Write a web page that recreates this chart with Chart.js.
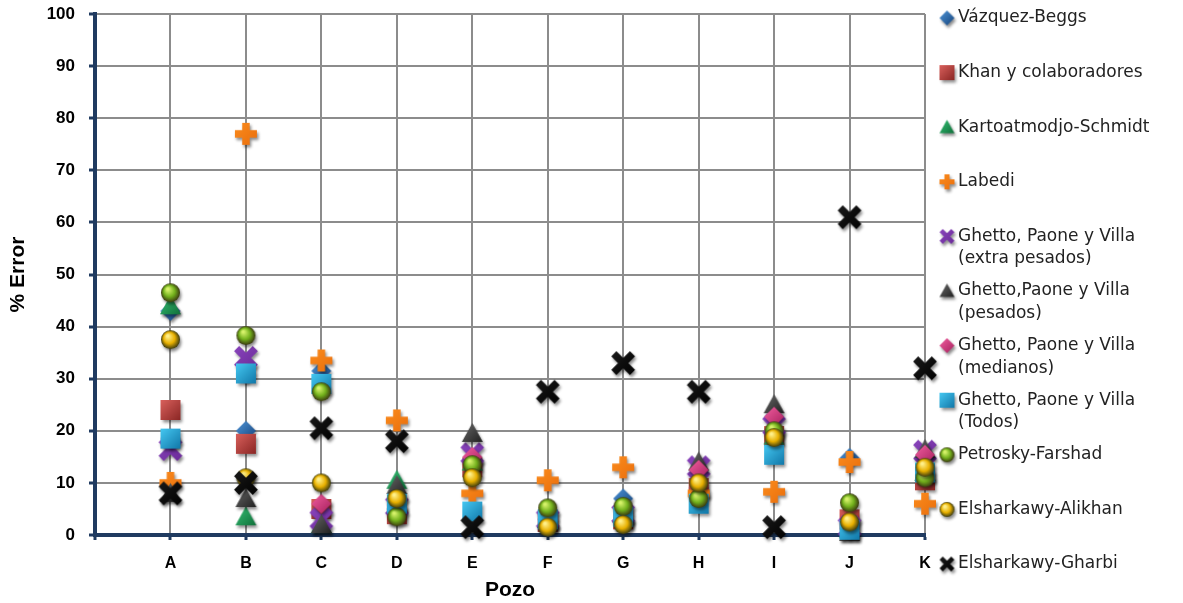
<!DOCTYPE html>
<html lang="es">
<head>
<meta charset="UTF-8">
<title>% Error por pozo</title>
<script src="https://cdn.jsdelivr.net/npm/chart.js@4.4.0/dist/chart.umd.min.js"></script>
<style>
  html, body { margin: 0; padding: 0; background: #fff; }
  #wrap { width: 1183px; height: 603px; }
</style>
</head>
<body>
<div id="wrap"><canvas id="chart" width="1183" height="603"></canvas></div>
<script>
// pozos (eje x) y % de error de cada correlacion
const pozos = ['A', 'B', 'C', 'D', 'E', 'F', 'G', 'H', 'I', 'J', 'K'];
const yTicks = [0, 10, 20, 30, 40, 50, 60, 70, 80, 90, 100];

const vazquezBeggs   = [43, 20, 31.5, 5, 14, 3, 7, 9, 19, 14.8, 12];
const khan           = [24, 17.5, 5, 4, 13, 2.5, 3, 9, 19, 3, 10.5];
const kartoatmodjo   = [44, 3.5, 2, 10.5, 14, 3, 4, 9, 19, 1, 12];
const labedi         = [10, 77, 33.5, 22, 8, 10.5, 13, 8, 8.3, 14, 6];
const ghettoExtra    = [16.5, 34, 3, 5.5, 15.5, 3, 4, 13, 21, 1.5, 16];
const ghettoPesados  = [8, 7, 2, 9.5, 19.5, 3, 4, 14, 25, 0.5, 16.4];
const ghettoMedianos = [18.5, 31, 6, 5, 15, 3, 4, 12.5, 22.7, 1, 15.4];
const ghettoTodos    = [18.5, 31, 29, 6, 4.5, 3, 3.5, 6, 15.4, 1, 12];
const petrosky       = [46.5, 38.3, 27.5, 3.5, 13.5, 5.2, 5.5, 7, 20, 6.2, 11];
const alikhan        = [37.5, 11, 10, 7, 11, 1.5, 2, 10, 18.7, 2.5, 13];
const gharbi         = [8, 10, 20.5, 18, 1.5, 27.5, 33, 27.5, 1.5, 61, 32];

// small canvases used as point markers
function makeMarker(kind, c1, c2, size) {
  const pad = 6;
  const s = size + pad * 2;
  const cv = document.createElement('canvas');
  cv.width = s; cv.height = s;
  const g = cv.getContext('2d');
  const c = s / 2, r = size / 2;
  g.shadowColor = 'rgba(0,0,0,0.45)';
  g.shadowBlur = 3;
  g.shadowOffsetX = 1.5;
  g.shadowOffsetY = 2.5;
  const lg = g.createLinearGradient(c - r, c - r, c + r, c + r);
  lg.addColorStop(0, c1);
  lg.addColorStop(1, c2);
  g.fillStyle = lg;
  g.beginPath();
  if (kind === 'diamond') {
    g.moveTo(c, c - r); g.lineTo(c + r, c); g.lineTo(c, c + r); g.lineTo(c - r, c);
    g.closePath(); g.fill();
  } else if (kind === 'square') {
    g.rect(c - r, c - r, size, size); g.fill();
  } else if (kind === 'triangle') {
    g.moveTo(c, c - r); g.lineTo(c + r, c + r * 0.8); g.lineTo(c - r, c + r * 0.8);
    g.closePath(); g.fill();
  } else if (kind === 'plus') {
    const w = size * 0.34;
    g.rect(c - w / 2, c - r, w, size);
    g.rect(c - r, c - w / 2, size, w);
    g.fill();
  } else if (kind === 'x') {
    g.strokeStyle = lg;
    g.lineWidth = size * 0.3;
    const d = r * 0.78;
    g.moveTo(c - d, c - d); g.lineTo(c + d, c + d);
    g.moveTo(c + d, c - d); g.lineTo(c - d, c + d);
    g.stroke();
  } else if (kind === 'sphere') {
    const rg = g.createRadialGradient(c - r * 0.3, c - r * 0.4, 1, c, c, r);
    rg.addColorStop(0, c1);
    rg.addColorStop(0.55, c2);
    rg.addColorStop(1, '#3a3a10');
    g.fillStyle = rg;
    g.arc(c, c, r, 0, Math.PI * 2);
    g.fill();
  }
  return cv;
}

const series = [
  { name: ['Vázquez-Beggs'], data: vazquezBeggs, kind: 'diamond', c1: '#4f95d8', c2: '#14427a', size: 20 },
  { name: ['Khan y colaboradores'], data: khan, kind: 'square', c1: '#d9605c', c2: '#8a2624', size: 20 },
  { name: ['Kartoatmodjo-Schmidt'], data: kartoatmodjo, kind: 'triangle', c1: '#35c276', c2: '#0e6a36', size: 21 },
  { name: ['Labedi'], data: labedi, kind: 'plus', c1: '#fb8c1e', c2: '#ea6f0c', size: 22 },
  { name: ['Ghetto, Paone y Villa', '(extra pesados)'], data: ghettoExtra, kind: 'x', c1: '#8a45bd', c2: '#6a2a98', size: 24 },
  { name: ['Ghetto,Paone y Villa', '(pesados)'], data: ghettoPesados, kind: 'triangle', c1: '#6a6a6a', c2: '#1c1c1c', size: 21 },
  { name: ['Ghetto, Paone y Villa', '(medianos)'], data: ghettoMedianos, kind: 'diamond', c1: '#f25ea0', c2: '#a51f5c', size: 20 },
  { name: ['Ghetto, Paone y Villa', '(Todos)'], data: ghettoTodos, kind: 'square', c1: '#45c8f2', c2: '#1177a8', size: 20 },
  { name: ['Petrosky-Farshad'], data: petrosky, kind: 'sphere', c1: '#d6f26a', c2: '#72b01c', size: 19 },
  { name: ['Elsharkawy-Alikhan'], data: alikhan, kind: 'sphere', c1: '#fff08a', c2: '#e8b000', size: 19 },
  { name: ['Elsharkawy-Gharbi'], data: gharbi, kind: 'x', c1: '#1a1a1a', c2: '#000000', size: 24 }
];

series.forEach(s => {
  s.marker = makeMarker(s.kind, s.c1, s.c2, s.size);
  s.legendMarker = makeMarker(s.kind, s.c1, s.c2, 15);
});

const datasets = series.map((s, i) => ({
  label: s.name.join(' '),
  data: s.data.map((v, j) => ({ x: j + 1, y: v })),
  pointStyle: s.marker,
  pointRadius: 10,
  showLine: false,
  order: series.length - i,
  clip: false
}));

// legend drawn on the right, items can have two lines
const rightLegend = {
  id: 'rightLegend',
  afterDraw(chart) {
    const ctx = chart.ctx;
    ctx.save();
    ctx.font = '17px "DejaVu Sans"';
    ctx.fillStyle = '#222';
    ctx.textBaseline = 'middle';
    series.forEach((s, i) => {
      const y = 18 + 54.6 * i;
      const m = s.legendMarker;
      ctx.drawImage(m, 947 - m.width / 2, y - m.height / 2);
      s.name.forEach((line, k) => {
        ctx.fillText(line, 958, y + k * 22.5);
      });
    });
    ctx.restore();
  }
};

const navy = '#1f3a60';

new Chart(document.getElementById('chart'), {
  type: 'scatter',
  data: { datasets },
  plugins: [rightLegend],
  options: {
    responsive: false,
    animation: false,
    layout: { padding: { left: 0, right: 258, top: 14, bottom: 0 } },
    plugins: {
      legend: { display: false },
      tooltip: { enabled: false }
    },
    scales: {
      x: {
        type: 'linear',
        min: 0,
        max: 11,
        afterFit: s => { s.height = 68; s.paddingLeft = 0; s.paddingRight = 0; },
        afterBuildTicks: s => { s.ticks = pozos.map((p, i) => ({ value: i })).concat([{ value: 11 }]); },
        ticks: {
          stepSize: 1,
          padding: 14,
          color: '#000',
          font: { family: '"Liberation Sans"', size: 16, weight: 'bold' },
          callback: v => (v >= 1 ? pozos[v - 1] : '')
        },
        grid: { color: '#8c8c8c', lineWidth: 2, tickColor: navy, tickWidth: 3, tickLength: 5 },
        border: { display: true, color: navy, width: 4 },
        title: {
          display: true,
          text: 'Pozo',
          color: '#000',
          font: { family: '"Liberation Sans"', size: 21, weight: 'bold' },
          padding: { top: 0, bottom: 0 }
        }
      },
      y: {
        min: 0,
        max: 100,
        afterFit: s => { s.width = 95; s.paddingTop = 0; s.paddingBottom = 0; },
        afterBuildTicks: s => { s.ticks = yTicks.map(v => ({ value: v })); },
        ticks: {
          padding: 14,
          color: '#000',
          font: { family: '"Liberation Sans"', size: 17, weight: 'bold' }
        },
        grid: { color: '#8c8c8c', lineWidth: 2, tickColor: navy, tickWidth: 3, tickLength: 6 },
        border: { display: true, color: navy, width: 4 },
        title: {
          display: true,
          text: '% Error',
          color: '#000',
          font: { family: '"Liberation Sans"', size: 21, weight: 'bold' },
          padding: { top: 6, bottom: 0 }
        }
      }
    }
  }
});
</script>
</body>
</html>
